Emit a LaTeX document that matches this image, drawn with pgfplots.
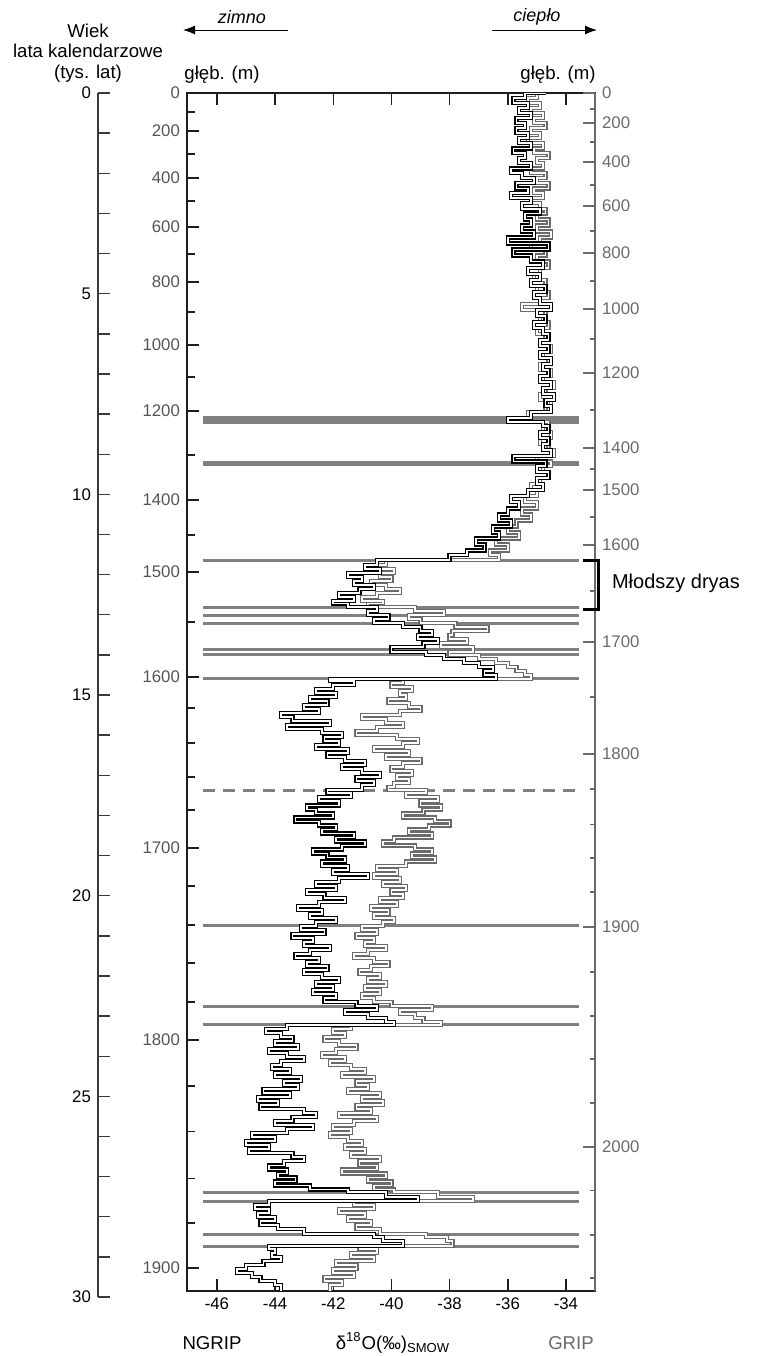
\documentclass[border=0pt]{standalone}
\usepackage{pgfplots}
\pgfplotsset{compat=1.18}
\usepackage{pgfplotstable}
\usepackage{fontspec}
\setmainfont{Liberation Sans}
\usetikzlibrary{arrows.meta}
\definecolor{framec}{HTML}{1E1E1E}
\definecolor{lblgray}{HTML}{555555}
\definecolor{gripc}{HTML}{6A6A6A}
\definecolor{linegray}{HTML}{808080}
\definecolor{agec}{HTML}{3A3A3A}

% NGRIP: age (ka) and d18O, value holds up to the given age
\pgfplotstableread{
a v
0 -34.7
0.12 -35.4
0.25 -35.8
0.38 -35.3
0.5 -35.6
0.62 -35.2
0.75 -35.7
0.88 -35.4
1.0 -35.7
1.12 -35.3
1.25 -35.6
1.38 -35.2
1.5 -35.8
1.62 -35.4
1.75 -35.6
1.88 -35.2
2.0 -35.9
2.12 -35.5
2.25 -35.1
2.38 -35.7
2.5 -35.3
2.62 -35.9
2.75 -35.2
2.88 -35.5
3.0 -34.9
3.15 -35.4
3.3 -35.2
3.45 -35.5
3.6 -35.1
3.75 -36.0
3.9 -34.6
4.05 -35.8
4.2 -35.2
4.35 -34.8
4.5 -35.3
4.65 -34.9
4.8 -35.2
4.95 -34.7
5.1 -35.1
5.25 -34.9
5.4 -34.5
5.55 -35.0
5.7 -34.7
5.85 -35.1
6.0 -34.8
6.15 -34.6
6.3 -34.9
6.45 -34.6
6.6 -34.9
6.75 -34.5
6.9 -34.8
7.05 -34.6
7.2 -34.9
7.35 -34.5
7.5 -34.8
7.65 -34.4
7.8 -34.7
7.95 -34.5
8.1 -35.2
8.2 -36.0
8.3 -34.8
8.45 -34.6
8.6 -34.9
8.75 -34.6
8.9 -34.8
9.05 -34.5
9.18 -35.8
9.3 -34.7
9.45 -35.0
9.6 -34.6
9.75 -35.0
9.9 -34.8
10.05 -35.3
10.2 -35.9
10.35 -35.6
10.5 -36.0
10.65 -36.3
10.8 -35.9
10.95 -36.5
11.1 -36.3
11.25 -37.1
11.4 -36.8
11.52 -37.4
11.64 -38.0
11.75 -40.5
11.85 -40.9
11.95 -40.4
12.05 -41.5
12.15 -41.0
12.25 -41.3
12.35 -40.6
12.45 -41.1
12.55 -41.8
12.65 -41.3
12.72 -42.0
12.81 -41.5
12.9 -40.5
13.0 -40.8
13.1 -40.1
13.2 -40.6
13.3 -39.6
13.4 -39.0
13.5 -38.6
13.6 -39.1
13.7 -38.4
13.8 -38.9
13.92 -40.0
14.0 -38.8
14.1 -38.2
14.2 -37.5
14.3 -37.0
14.4 -36.5
14.5 -36.8
14.6 -36.4
14.65 -42.1
14.75 -41.3
14.85 -42.0
14.95 -42.6
15.05 -41.9
15.15 -42.8
15.25 -42.2
15.35 -43.0
15.45 -42.5
15.55 -43.8
15.65 -43.4
15.75 -42.1
15.85 -43.6
15.95 -42.4
16.05 -41.7
16.15 -42.3
16.25 -41.8
16.35 -42.6
16.45 -41.5
16.55 -42.2
16.65 -41.6
16.75 -40.9
16.85 -41.7
16.95 -41.0
17.05 -40.4
17.15 -41.2
17.25 -40.6
17.37 -41.0
17.45 -42.2
17.55 -41.4
17.65 -42.5
17.75 -41.8
17.85 -42.9
17.95 -42.6
18.05 -42.0
18.15 -43.3
18.25 -42.5
18.35 -41.9
18.45 -42.4
18.55 -41.3
18.65 -41.9
18.75 -40.9
18.85 -41.7
18.95 -42.7
19.05 -42.2
19.15 -41.6
19.25 -42.4
19.35 -41.5
19.45 -42.0
19.55 -40.8
19.65 -41.8
19.75 -42.6
19.85 -41.9
19.95 -42.9
20.05 -42.3
20.15 -41.6
20.25 -42.5
20.35 -43.2
20.45 -42.4
20.55 -42.8
20.65 -41.9
20.75 -42.6
20.85 -43.1
20.95 -42.3
21.05 -43.4
21.15 -42.7
21.25 -43.0
21.35 -42.1
21.45 -42.8
21.55 -43.3
21.65 -42.5
21.75 -42.9
21.85 -42.2
21.95 -43.0
22.05 -42.4
22.15 -41.8
22.25 -42.6
22.35 -42.0
22.45 -42.7
22.55 -41.9
22.65 -42.3
22.75 -41.2
22.85 -40.5
22.95 -41.6
23.05 -40.8
23.15 -40.2
23.22 -39.9
23.32 -43.6
23.42 -44.3
23.52 -43.8
23.62 -43.4
23.72 -44.0
23.82 -43.2
23.92 -44.2
24.02 -43.6
24.12 -43.0
24.22 -43.8
24.32 -44.1
24.42 -43.5
24.52 -44.0
24.62 -43.1
24.72 -43.7
24.82 -43.2
24.92 -44.4
25.02 -43.5
25.12 -44.6
25.22 -43.9
25.32 -44.5
25.42 -43.0
25.52 -42.6
25.62 -43.4
25.72 -44.0
25.82 -42.7
25.92 -43.6
26.02 -44.8
26.12 -44.0
26.22 -45.0
26.32 -44.2
26.42 -44.9
26.52 -43.4
26.62 -43.0
26.72 -43.7
26.82 -44.2
26.92 -43.6
27.02 -43.9
27.12 -43.3
27.22 -44.0
27.32 -42.8
27.39 -41.5
27.5 -40.2
27.61 -39.1
27.7 -44.2
27.8 -44.7
27.9 -44.2
28.0 -44.6
28.1 -44.0
28.2 -44.5
28.3 -43.9
28.43 -43.0
28.5 -40.6
28.6 -40.3
28.73 -39.6
28.8 -44.2
28.9 -44.0
29.0 -44.1
29.1 -43.8
29.2 -44.4
29.3 -45.0
29.4 -45.3
29.5 -44.8
29.6 -44.5
29.7 -44.0
29.85 -43.8
}\ngrip

% GRIP
\pgfplotstableread{
a v
0 -34.8
0.12 -35.0
0.25 -35.3
0.38 -34.9
0.5 -35.2
0.62 -34.8
0.75 -35.1
0.88 -34.7
1.0 -35.2
1.12 -34.9
1.25 -35.3
1.38 -34.8
1.5 -35.1
1.62 -34.6
1.75 -35.0
1.88 -34.8
2.0 -35.2
2.12 -34.7
2.25 -35.0
2.38 -34.6
2.5 -35.1
2.62 -34.8
2.75 -35.2
2.88 -34.9
3.0 -34.7
3.15 -35.0
3.3 -34.6
3.45 -35.0
3.6 -34.5
3.75 -34.9
3.9 -35.2
4.05 -34.7
4.2 -35.0
4.35 -34.6
4.5 -34.9
4.65 -35.1
4.8 -34.7
4.95 -35.0
5.1 -34.6
5.25 -34.9
5.4 -35.5
5.55 -34.7
5.7 -34.9
5.85 -34.6
6.0 -35.0
6.15 -34.7
6.3 -34.9
6.45 -34.5
6.6 -34.8
6.75 -34.6
6.9 -34.9
7.05 -34.5
7.2 -34.8
7.35 -34.4
7.5 -34.7
7.65 -34.9
7.8 -34.5
7.95 -34.7
8.1 -35.3
8.2 -35.8
8.3 -34.6
8.45 -34.8
8.6 -34.5
8.75 -34.9
8.9 -34.6
9.05 -34.4
9.18 -35.0
9.3 -34.5
9.45 -34.8
9.6 -34.6
9.75 -34.9
9.9 -35.2
10.05 -35.0
10.2 -35.4
10.35 -35.0
10.5 -35.5
10.65 -35.2
10.8 -35.7
10.95 -36.0
11.1 -35.6
11.25 -36.4
11.4 -36.0
11.52 -36.6
11.64 -36.3
11.75 -40.2
11.85 -40.6
11.95 -39.9
12.05 -40.4
12.15 -40.0
12.25 -40.7
12.35 -40.2
12.45 -39.7
12.55 -40.5
12.65 -41.0
12.72 -40.3
12.81 -40.8
12.9 -39.2
13.0 -38.2
13.1 -39.4
13.2 -39.0
13.3 -37.8
13.4 -36.7
13.5 -37.9
13.6 -38.0
13.7 -37.4
13.8 -38.3
13.92 -37.2
14.0 -38.0
14.1 -37.0
14.2 -36.4
14.3 -36.0
14.4 -35.7
14.5 -35.4
14.6 -35.2
14.7 -39.6
14.8 -40.0
14.9 -39.3
15.0 -39.7
15.1 -39.5
15.2 -40.1
15.3 -39.4
15.4 -39.0
15.5 -39.7
15.6 -41.0
15.7 -40.2
15.8 -39.6
15.9 -40.5
16.0 -41.2
16.1 -39.8
16.2 -39.1
16.3 -39.6
16.4 -40.6
16.5 -39.4
16.6 -40.2
16.7 -39.0
16.8 -39.6
16.9 -40.0
17.0 -39.3
17.1 -39.8
17.2 -39.4
17.3 -39.9
17.37 -40.1
17.45 -38.8
17.55 -39.5
17.65 -38.4
17.75 -39.0
17.85 -38.3
17.95 -38.9
18.05 -39.6
18.15 -38.5
18.25 -38.0
18.35 -38.7
18.45 -39.4
18.55 -38.6
18.65 -39.9
18.75 -40.3
18.85 -39.2
18.95 -38.6
19.05 -39.3
19.15 -38.5
19.25 -39.5
19.35 -40.5
19.45 -39.8
19.55 -40.6
19.65 -39.7
19.75 -40.3
19.85 -39.5
19.95 -40.0
20.05 -39.6
20.15 -40.4
20.25 -39.8
20.35 -40.7
20.45 -40.1
20.55 -40.6
20.65 -39.9
20.75 -40.3
20.85 -41.0
20.95 -40.5
21.05 -41.2
21.15 -40.6
21.25 -40.9
21.35 -40.2
21.45 -40.8
21.55 -41.3
21.65 -40.6
21.75 -40.1
21.85 -40.7
21.95 -41.1
22.05 -40.4
22.15 -40.8
22.25 -40.2
22.35 -40.9
22.45 -40.4
22.55 -41.0
22.65 -40.6
22.75 -40.0
22.85 -38.6
22.95 -39.7
23.05 -39.2
23.15 -38.9
23.22 -38.3
23.32 -41.4
23.42 -42.0
23.52 -41.6
23.62 -42.3
23.72 -41.8
23.82 -41.2
23.92 -41.9
24.02 -42.4
24.12 -41.6
24.22 -42.1
24.32 -41.4
24.42 -40.9
24.52 -41.7
24.62 -40.6
24.72 -41.2
24.82 -40.8
24.92 -41.5
25.02 -40.4
25.12 -41.0
25.22 -40.3
25.32 -41.2
25.42 -40.7
25.52 -41.8
25.62 -40.5
25.72 -41.3
25.82 -42.0
25.92 -41.4
26.02 -42.1
26.12 -41.5
26.22 -41.0
26.32 -41.6
26.42 -40.9
26.52 -41.4
26.62 -40.4
26.72 -41.1
26.82 -40.5
26.92 -41.7
27.02 -40.2
27.12 -40.8
27.22 -40.0
27.32 -40.6
27.39 -39.9
27.5 -38.4
27.61 -37.2
27.7 -41.3
27.8 -40.6
27.9 -41.8
28.0 -40.9
28.1 -41.5
28.2 -40.7
28.3 -41.2
28.43 -40.4
28.5 -38.8
28.6 -38.1
28.73 -37.9
28.8 -41.1
28.9 -40.5
29.0 -41.4
29.1 -40.6
29.2 -41.9
29.3 -41.2
29.4 -42.0
29.5 -41.3
29.6 -42.3
29.7 -41.7
29.85 -42.1
}\grip

\begin{document}
\begin{tikzpicture}
\useasboundingbox (0,0) rectangle (380.5pt,-678pt);

% age axis (kyr)
\begin{axis}[at={(49pt,-46.5pt)}, anchor=north west, scale only axis,
  width=1pt, height=602pt, xmin=0, xmax=1, ymin=0, ymax=30, y dir=reverse,
  hide x axis, axis y line=left,
  y axis line style={-, agec, line width=0.7pt},
  ytick={0,5,...,30}, minor ytick={1,...,29},
  tick align=inside, major tick length=6pt, minor tick length=6pt,
  every tick/.style={agec, line width=0.7pt},
  yticklabel style={font=\fontsize{8.4}{10}\selectfont, black},
  /pgf/number format/assume math mode=true]
\end{axis}

% main frame, NGRIP depth on the left
\begin{axis}[at={(93.5pt,-46.5pt)}, anchor=north west, scale only axis,
  width=204pt, height=599pt,
  xmin=-47.03, xmax=-33.0, ymin=0, ymax=29.85, y dir=reverse,
  axis line style={framec, line width=0.75pt},
  tick align=inside, major tick length=6pt, minor tick length=4pt,
  every tick/.style={framec, line width=0.75pt},
  xtick={-46,-44,-42,-40,-38,-36,-34},
  xticklabels={-46,-44,-42,-40,-38,-36,-34},
  xticklabel style={font=\fontsize{8.4}{10}\selectfont, black},
  ytick pos=left,
  ytick={0,0.947,2.118,3.339,4.710,6.280,7.924,10.142,11.936,14.553,18.814,23.598,29.280},
  yticklabels={0,200,400,600,800,1000,1200,1400,1500,1600,1700,1800,1900},
  minor ytick={0.473,1.52,2.69,4.01,5.457,7.077,9.02,11.014,13.18,15.325,16.197,17.045,17.867,19.76,20.73,21.68,22.65,24.74,25.87,27.04,28.16},
  yticklabel style={font=\fontsize{8.4}{10}\selectfont, lblgray}]

  \addplot[linegray, line width=4pt, forget plot] coordinates {(-46.48,8.148) (-33.55,8.148)};
  \addplot[linegray, line width=2.5pt, forget plot] coordinates {(-46.48,9.22) (-33.55,9.22)};
  \addplot[linegray, line width=1.5pt, forget plot] coordinates {(-46.48,11.637) (-33.55,11.637)};
  \addplot[linegray, line width=1.5pt, forget plot] coordinates {(-46.48,12.808) (-33.55,12.808)};
  \addplot[linegray, line width=1.5pt, forget plot] coordinates {(-46.48,13.03) (-33.55,13.03)};
  \addplot[linegray, line width=1.5pt, forget plot] coordinates {(-46.48,13.207) (-33.55,13.207)};
  \addplot[linegray, line width=1.5pt, forget plot] coordinates {(-46.48,13.855) (-33.55,13.855)};
  \addplot[linegray, line width=1.5pt, forget plot] coordinates {(-46.48,13.98) (-33.55,13.98)};
  \addplot[linegray, line width=1.5pt, forget plot] coordinates {(-46.48,14.60) (-33.55,14.60)};
  \addplot[linegray, line width=1.5pt, dash pattern=on 6pt off 4pt, forget plot] coordinates {(-46.48,17.368) (-33.55,17.368)};
  \addplot[linegray, line width=1.5pt, forget plot] coordinates {(-46.48,20.73) (-33.55,20.73)};
  \addplot[linegray, line width=1.5pt, forget plot] coordinates {(-46.48,22.75) (-33.55,22.75)};
  \addplot[linegray, line width=1.5pt, forget plot] coordinates {(-46.48,23.22) (-33.55,23.22)};
  \addplot[linegray, line width=1.5pt, forget plot] coordinates {(-46.48,27.386) (-33.55,27.386)};
  \addplot[linegray, line width=1.5pt, forget plot] coordinates {(-46.48,27.61) (-33.55,27.61)};
  \addplot[linegray, line width=1.5pt, forget plot] coordinates {(-46.48,28.43) (-33.55,28.43)};
  \addplot[linegray, line width=1.5pt, forget plot] coordinates {(-46.48,28.73) (-33.55,28.73)};

  \addplot[const plot, gripc, line width=0.6pt, double=white, double distance=0.9pt] table[x=v, y=a] {\grip};
  \addplot[const plot, black, line width=0.6pt, double=white, double distance=0.9pt] table[x=v, y=a] {\ngrip};
\end{axis}

% GRIP depth on the right
\begin{axis}[at={(93.5pt,-46.5pt)}, anchor=north west, scale only axis,
  width=204pt, height=599pt,
  xmin=-47.03, xmax=-33.0, ymin=0, ymax=29.85, y dir=reverse,
  hide x axis, axis y line*=right,
  y axis line style={-, gripc, line width=0.8pt},
  tick align=inside, major tick length=6pt, minor tick length=2.5pt,
  every tick/.style={gripc, line width=0.75pt},
  ytick={0,0.748,1.719,2.816,3.987,5.383,6.977,8.846,9.893,11.263,13.68,16.47,20.78,26.26},
  yticklabels={0,200,400,600,800,1000,1200,1400,1500,1600,1700,1800,1900,2000},
  minor ytick={0.399,1.221,2.293,3.439,4.685,6.130,7.899,9.369,10.565,12.41,15.05,17.34,18.22,19.06,19.91,21.90,23.00,24.07,25.17,27.34,28.46,29.53},
  yticklabel style={font=\fontsize{8.4}{10}\selectfont, gripc}]
\end{axis}

% titles and annotations (units are pixels of the reference)
\begin{scope}[x=0.5pt, y=-0.5pt]
\node[font=\fontsize{9.3}{10.3}\selectfont, align=center] at (88,53) {Wiek\\lata kalendarzowe\\(tys. lat)};
\node[font=\fontsize{9.3}{11}\selectfont] at (222,75) {głęb. (m)};
\node[font=\fontsize{9.3}{11}\selectfont] at (558,75) {głęb. (m)};
\node[font=\fontsize{9}{11}\selectfont\itshape] at (242,17) {zimno};
\node[font=\fontsize{9}{11}\selectfont\itshape] at (537,17) {ciepło};
\draw[-{Latex[length=6pt,width=4.5pt]}, line width=0.5pt] (288,30) -- (183,30);
\draw[-{Latex[length=6pt,width=4.5pt]}, line width=0.5pt] (492,30) -- (597,30);
\draw[black, line width=1.5pt] (583,560) -- (598,560) -- (598,609) -- (583,609);
\node[anchor=west, font=\fontsize{10}{12}\selectfont] at (605,583) {Młodszy dryas};
\node[font=\fontsize{9.3}{11}\selectfont] at (212,1343) {NGRIP};
\node[font=\fontsize{9.3}{11}\selectfont] at (393,1343) {δ\textsuperscript{18}O(‰)\textsubscript{SMOW}};
\node[font=\fontsize{9.3}{11}\selectfont, gripc] at (571,1343) {GRIP};
\end{scope}
\end{tikzpicture}
\end{document}
